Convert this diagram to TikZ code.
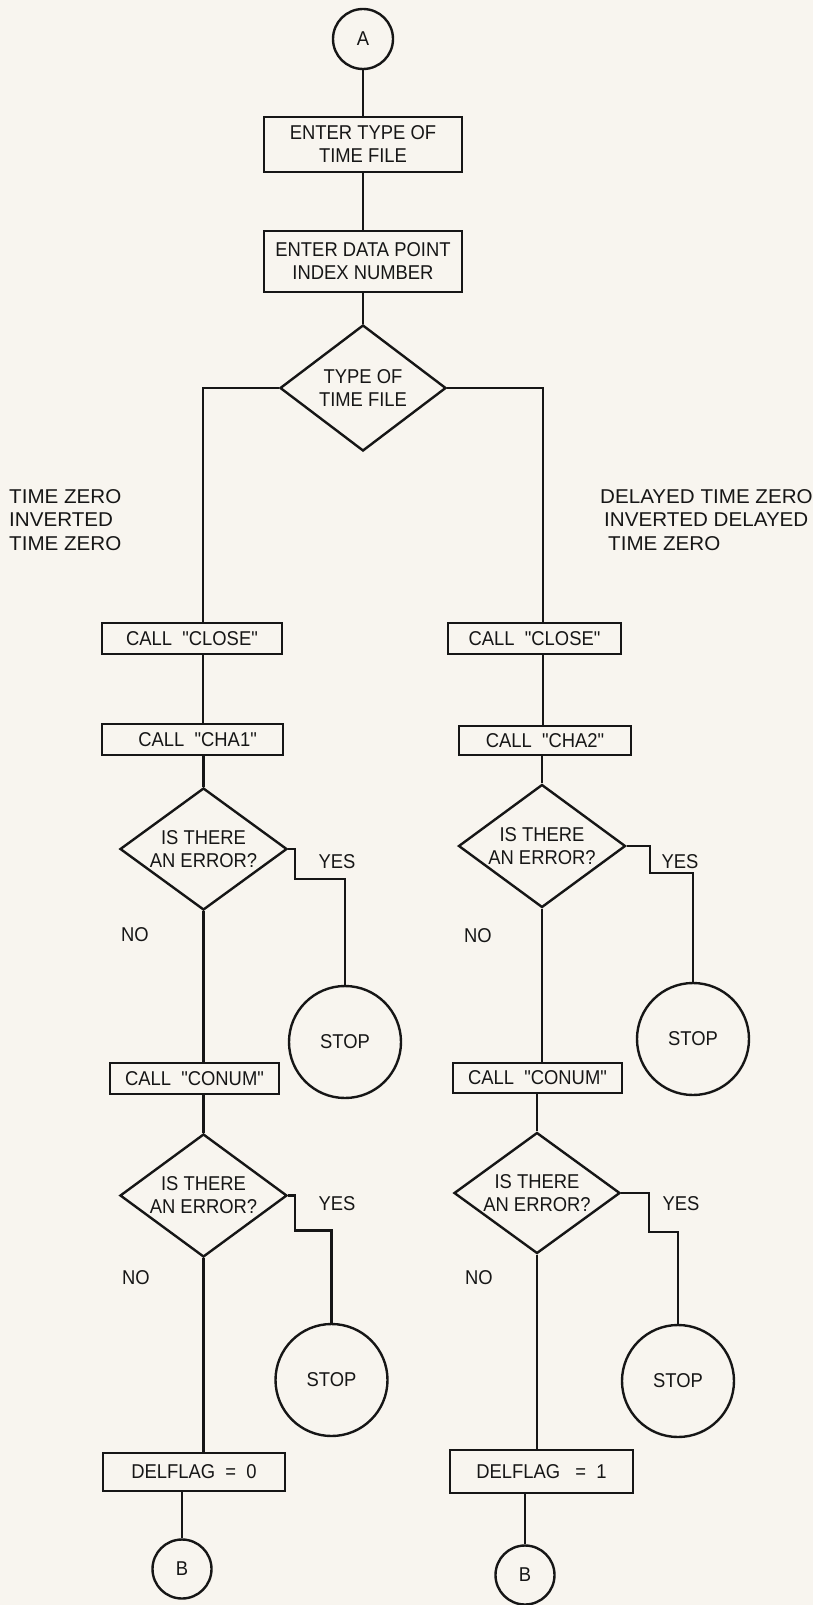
\documentclass[tikz,border=0pt]{standalone}
\usepackage{fontspec}
\setmainfont{Liberation Sans}[FakeStretch=0.92, Ligatures=TeXOff]
\newfontfamily\lblfont{Liberation Sans}[FakeStretch=1.03, Ligatures=TeXOff]
\usetikzlibrary{shapes.geometric}
\definecolor{paper}{RGB}{248,245,239}
\definecolor{ink}{RGB}{22,22,22}
\tikzset{
  base/.style={draw=ink, line width=2.4pt, inner sep=0pt, text=ink, font=\fontsize{20}{23}\selectfont},
  procbox/.style={base, rectangle, align=center},
  decision/.style={base, diamond},
  roundnode/.style={base, circle},
  conn/.style={draw=ink, line width=2.4pt},
  lbl/.style={text=ink, inner sep=0pt, font=\fontsize{20}{23.5}\selectfont},
  grouplbl/.style={text=ink, inner sep=0pt, font=\lblfont\fontsize{20}{23.5}\selectfont},
  dlbl/.style={lbl, align=center, font=\fontsize{20}{23}\selectfont},
}
\begin{document}
\begin{tikzpicture}[x=1pt,y=-1pt]
\fill[paper] (0,0) rectangle (813,1605);
\useasboundingbox (0,0) rectangle (813,1605);

% column guides
\coordinate (cL) at (203,0);
\coordinate (cR) at (543,0);

% top
\node[roundnode, minimum size=60pt] (A) at (363,39) {A};
\node[procbox, minimum width=198pt, minimum height=55pt] (B1) at (363,144.5) {ENTER TYPE OF\\TIME FILE};
\node[procbox, minimum width=198pt, minimum height=61pt] (B2) at (363,261.5) {ENTER DATA POINT\\INDEX NUMBER};
\node[decision, minimum width=166pt, minimum height=126pt,
      label={[dlbl]center:{TYPE OF\\TIME FILE}}] (D0) at (363,388) {};

% branch labels
\node[grouplbl, anchor=north west, align=left] (tl) at (9,489) {TIME ZERO\\INVERTED\\TIME ZERO};
\node[grouplbl, anchor=north west, align=left] (tr) at (600,489) {DELAYED TIME ZERO\\\hspace{4pt}INVERTED DELAYED\\\hspace{8pt}TIME ZERO};

% left column
\node[procbox, minimum width=180pt, minimum height=31pt] (L1) at (192,638.5) {CALL\ \ "CLOSE"};
\node[procbox, minimum width=181pt, minimum height=31pt] (L2) at (192.5,739.5) {\ \ CALL\ \ "CHA1"};
\node[decision, minimum width=167pt, minimum height=122pt,
      label={[dlbl]center:{IS THERE\\AN ERROR?}}] (L3) at (203.5,849) {};
\node[roundnode, minimum size=112pt] (SL1) at (345,1042) {STOP};
\node[lbl] (yl1) at (337,862) {YES};
\node[lbl] (nl1) at (135,935) {NO};
\node[procbox, minimum width=169pt, minimum height=31pt] (L4) at (194.5,1078.5) {CALL\ \ "CONUM"};
\node[decision, minimum width=167pt, minimum height=123pt,
      label={[dlbl]center:{IS THERE\\AN ERROR?}}] (L5) at (203.5,1195.5) {};
\node[roundnode, minimum size=112pt] (SL2) at (331.5,1380) {STOP};
\node[lbl] (yl2) at (337,1204) {YES};
\node[lbl] (nl2) at (136,1278) {NO};
\node[procbox, minimum width=182pt, minimum height=38pt] (L6) at (194,1472) {DELFLAG\ \ =\ \ 0};
\node[roundnode, minimum size=59pt] (BL) at (182,1569) {B};

% right column
\node[procbox, minimum width=173pt, minimum height=31pt] (R1) at (534.5,638.5) {CALL\ \ "CLOSE"};
\node[procbox, minimum width=172pt, minimum height=29pt] (R2) at (545,740.5) {CALL\ \ "CHA2"};
\node[decision, minimum width=167pt, minimum height=123pt,
      label={[dlbl]center:{IS THERE\\AN ERROR?}}] (R3) at (542,846) {};
\node[roundnode, minimum size=112pt] (SR1) at (693,1039) {STOP};
\node[lbl] (yr1) at (680,862) {YES};
\node[lbl] (nr1) at (478,936) {NO};
\node[procbox, minimum width=169pt, minimum height=30pt] (R4) at (537.5,1078) {CALL\ \ "CONUM"};
\node[decision, minimum width=166pt, minimum height=121pt,
      label={[dlbl]center:{IS THERE\\AN ERROR?}}] (R5) at (537,1193) {};
\node[roundnode, minimum size=112pt] (SR2) at (678,1381) {STOP};
\node[lbl] (yr2) at (681,1204) {YES};
\node[lbl] (nr2) at (479,1278) {NO};
\node[procbox, minimum width=183pt, minimum height=43pt] (R6) at (541.5,1471.5) {DELFLAG\ \ \ =\ \ 1};
\node[roundnode, minimum size=59pt] (BR) at (525,1575) {B};

% connectors: top
\draw[conn] (A) -- (B1);
\draw[conn] (B1) -- (B2);
\draw[conn] (B2) -- (D0);
\draw[conn] (D0.west) -| (L1.north -| cL);
\draw[conn] (D0.east) -| (R1.north -| cR);

% connectors: left column
\draw[conn] (L1.south -| cL) -- (L2.north -| cL);
\draw[conn] (L2.south -| L3.north) -- (L3.north);
\draw[conn] (L3.east) -- ++(7,0) -- ++(0,30) -| (SL1.north);
\draw[conn] (L3.south) -- (L3.south |- L4.north);
\draw[conn] (L4.south -| L5.north) -- (L5.north);
\draw[conn] (L5.east) -- ++(7,0) -- ++(0,35) -| (SL2.north);
\draw[conn] (L5.south) -- (L5.south |- L6.north);
\draw[conn] (BL.north |- L6.south) -- (BL.north);

% connectors: right column
\draw[conn] (R1.south -| cR) -- (R2.north -| cR);
\draw[conn] (R2.south -| R3.north) -- (R3.north);
\draw[conn] (R3.east) -- ++(23,0) -- ++(0,27) -| (SR1.north);
\draw[conn] (R3.south) -- (R3.south |- R4.north);
\draw[conn] (R4.south -| R5.north) -- (R5.north);
\draw[conn] (R5.east) -- ++(28,0) -- ++(0,39) -| (SR2.north);
\draw[conn] (R5.south) -- (R5.south |- R6.north);
\draw[conn] (BR.north |- R6.south) -- (BR.north);
\end{tikzpicture}
\end{document}
